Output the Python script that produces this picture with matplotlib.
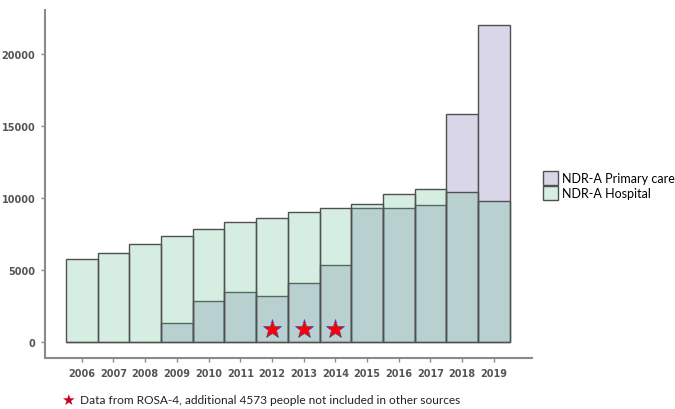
import numpy as np
import matplotlib
matplotlib.use("Agg")
import matplotlib.pyplot as plt
from matplotlib.patches import Patch

# data
years = [2006, 2007, 2008, 2009, 2010, 2011, 2012, 2013, 2014, 2015, 2016, 2017, 2018, 2019]
hospital = [5750, 6200, 6850, 7370, 7890, 8320, 8610, 9070, 9300, 9580, 10280, 10620, 10440, 9790]
primary_care = [0, 0, 0, 1320, 2850, 3470, 3190, 4100, 5370, 9330, 9330, 9560, 15880, 22060]
star_years = [2012, 2013, 2014]
star_level = [900, 900, 900]
y_ticks = [0, 5000, 10000, 15000, 20000]

footnote = "Data from ROSA-4, additional 4573 people not included in other sources"

lavender = "#d8d6e8"
green_alpha = (0.37, 0.75, 0.545, 0.25)
edge = "#505050"
axis_grey = "#8a8a8a"
label_grey = "#555555"

fig = plt.figure(figsize=(6.75, 4.1), dpi=100)
ax = fig.add_axes([0.0667, 0.1244, 0.7213, 0.8486])

# primary care underneath, hospital on top (semi-transparent -> grey-teal overlap)
ax.bar(years, primary_care, width=1.0, color=lavender, edgecolor=edge, linewidth=1.0, zorder=2)
ax.bar(years, hospital, width=1.0, color=green_alpha, edgecolor=edge, linewidth=1.0, zorder=3)

ax.plot(star_years, star_level, linestyle="none", marker="*", markersize=14,
        markerfacecolor="#ff0000", markeredgecolor="#4a4aa0", markeredgewidth=0.5, zorder=4)

ax.set_xlim(2004.84, 2020.2)
ax.set_ylim(-1100, 23080)
ax.set_xticks(years)
ax.set_xticklabels([str(y) for y in years])
ax.set_yticks(y_ticks)

for side in ["top", "right"]:
    ax.spines[side].set_visible(False)
for side in ["left", "bottom"]:
    ax.spines[side].set_color(axis_grey)
    ax.spines[side].set_linewidth(1.5)

ax.tick_params(axis="both", colors=axis_grey, length=3, width=1, labelsize=7, pad=4)
for lbl in ax.get_xticklabels() + ax.get_yticklabels():
    lbl.set_color(label_grey)
    lbl.set_fontweight("bold")
    lbl.set_family("DejaVu Sans")

handles = [Patch(facecolor=lavender, edgecolor=edge, linewidth=1.0, label="NDR-A Primary care"),
           Patch(facecolor="#d7efe2", edgecolor=edge, linewidth=1.0, label="NDR-A Hospital")]
fig.legend(handles=handles, loc="center left", bbox_to_anchor=(0.797, 0.545), frameon=False,
           prop={"family": "Lato", "size": 9}, handlelength=1.2, handleheight=1.4,
           handletextpad=0.3, labelspacing=0.05, borderaxespad=0)

# footnote with star symbol
fig.text(0.101, 0.024, "\u2605", color="#c8001e", fontsize=11, ha="center", va="center",
         family="DejaVu Sans")
fig.text(0.119, 0.024, footnote, fontsize=8.6, color="#222222", ha="left", va="center",
         family="Lato")

fig.savefig("out.png", dpi=100)
